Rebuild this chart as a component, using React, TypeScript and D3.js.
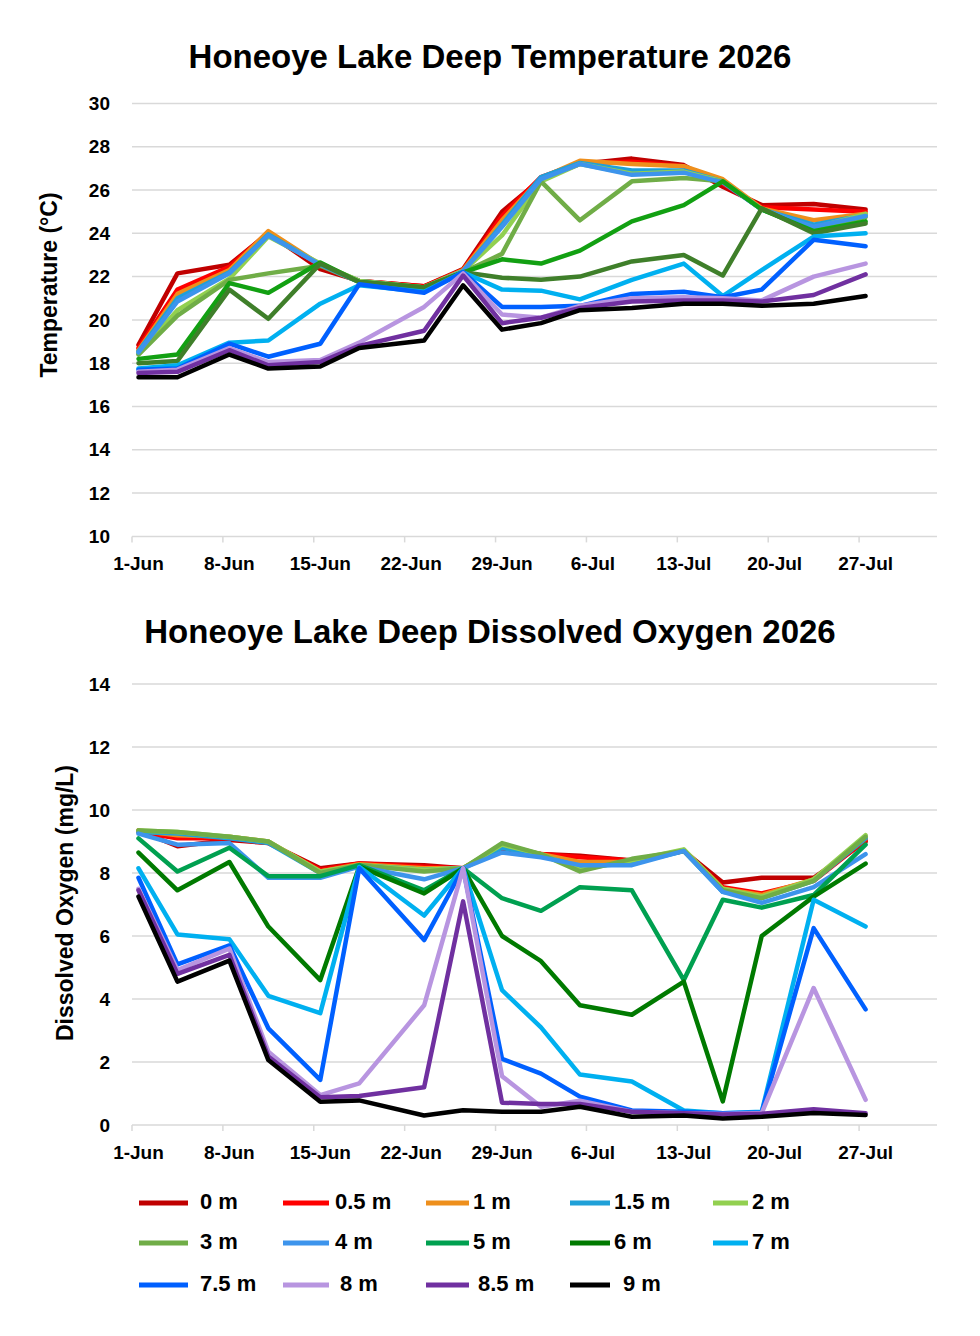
import React, { useEffect } from "react";
import * as d3 from "d3";

// sampling dates (same for both charts)
const DATES = [
  "2026-06-01", "2026-06-04", "2026-06-08", "2026-06-11", "2026-06-15", "2026-06-18",
  "2026-06-23", "2026-06-26", "2026-06-29", "2026-07-02", "2026-07-05", "2026-07-09",
  "2026-07-13", "2026-07-16", "2026-07-19", "2026-07-23", "2026-07-27",
];

const DEPTHS = ["0 m", "0.5 m", "1 m", "1.5 m", "2 m", "3 m", "4 m", "5 m", "6 m", "7 m", "7.5 m", "8 m", "8.5 m", "9 m"];

const COLORS = [
  "#c00000", "#ff0000", "#ee8f1c", "#1fa0d8", "#92d050", "#70ad47", "#3d94ec",
  "#00a050", "#007a00", "#00b0f0", "#0060ff", "#b895e0", "#7030a0", "#000000",
];
// temperature chart draws 5 m and 6 m in other greens
const TEMP_COLORS = COLORS.map((c, i) => (i === 7 ? "#12a012" : i === 8 ? "#3f7f2a" : c));

// temperature (°C) per depth
const T0 = [18.85, 22.15, 22.55, 24.0, 22.35, 21.8, 21.55, 22.35, 25.0, 26.5, 27.2, 27.45, 27.15, 26.15, 25.3, 25.35, 25.1];
const T05 = [18.7, 21.4, 22.45, 24.05, 22.5, 21.8, 21.55, 22.3, 24.8, 26.6, 27.25, 27.3, 27.1, 26.3, 25.2, 25.1, 25.0];
const T1 = [18.6, 21.2, 22.3, 24.1, 22.55, 21.8, 21.5, 22.3, 24.6, 26.55, 27.35, 27.2, 27.1, 26.5, 25.15, 24.6, 24.9];
const T15 = [18.55, 21.0, 22.2, 23.95, 22.55, 21.8, 21.5, 22.25, 24.4, 26.6, 27.25, 26.9, 26.9, 26.4, 25.1, 24.4, 24.85];
const T2 = [18.45, 20.45, 21.9, 23.85, 22.6, 21.8, 21.5, 22.25, 23.9, 26.4, 27.2, 26.75, 26.85, 26.4, 25.1, 24.25, 24.9];
const T3 = [18.4, 20.2, 21.85, 22.15, 22.5, 21.75, 21.5, 22.2, 23.05, 26.4, 24.6, 26.4, 26.55, 26.4, 25.1, 24.15, 24.75];
const T4 = [18.5, 20.85, 22.15, 23.9, 22.55, 21.75, 21.45, 22.25, 24.3, 26.5, 27.2, 26.7, 26.8, 26.35, 25.1, 24.3, 24.8];
const T5 = [18.2, 18.4, 21.7, 21.25, 22.65, 21.75, 21.5, 22.2, 22.8, 22.6, 23.2, 24.55, 25.3, 26.4, 25.1, 24.1, 24.55];
const T6 = [18.0, 18.1, 21.4, 20.05, 22.6, 21.75, 21.5, 22.2, 21.95, 21.85, 22.0, 22.7, 23.0, 22.05, 25.15, 24.0, 24.45];
const T7 = [17.75, 17.9, 18.95, 19.05, 20.75, 21.6, 21.3, 22.2, 21.4, 21.35, 20.95, 21.85, 22.6, 21.1, 22.3, 23.85, 24.0];
const T75 = [17.7, 17.75, 18.9, 18.3, 18.9, 21.65, 21.25, 22.2, 20.6, 20.6, 20.65, 21.2, 21.3, 21.05, 21.4, 23.7, 23.4];
const T8 = [17.6, 17.7, 18.7, 18.05, 18.15, 18.95, 20.6, 22.15, 20.25, 20.1, 20.65, 21.0, 21.05, 21.0, 20.9, 22.0, 22.6];
const T85 = [17.55, 17.6, 18.6, 17.9, 18.05, 18.8, 19.5, 22.05, 19.85, 20.1, 20.55, 20.85, 20.9, 20.9, 20.85, 21.15, 22.1];
const T9 = [17.35, 17.35, 18.4, 17.75, 17.85, 18.7, 19.05, 21.6, 19.55, 19.85, 20.45, 20.55, 20.75, 20.75, 20.65, 20.75, 21.1];
const TEMP = [T0, T05, T1, T15, T2, T3, T4, T5, T6, T7, T75, T8, T85, T9];

// dissolved oxygen (mg/L) per depth
const O0 = [9.35, 8.85, 9.05, 8.95, 8.15, 8.3, 8.25, 8.15, 8.75, 8.6, 8.55, 8.4, 8.7, 7.7, 7.85, 7.85, 9.0];
const O05 = [9.3, 9.1, 9.1, 8.95, 8.1, 8.3, 8.2, 8.15, 8.85, 8.6, 8.5, 8.4, 8.7, 7.55, 7.35, 7.75, 9.05];
const O1 = [9.35, 9.2, 9.15, 9.0, 8.05, 8.28, 8.15, 8.15, 8.85, 8.6, 8.35, 8.35, 8.7, 7.5, 7.3, 7.8, 9.1];
const O15 = [9.3, 9.25, 9.1, 8.95, 8.0, 8.25, 8.1, 8.15, 8.8, 8.55, 8.2, 8.3, 8.7, 7.4, 7.2, 7.75, 9.1];
const O2 = [9.35, 9.3, 9.15, 9.0, 8.05, 8.25, 8.1, 8.15, 8.9, 8.6, 8.1, 8.4, 8.75, 7.5, 7.25, 7.8, 9.2];
const O3 = [9.35, 9.3, 9.15, 9.0, 8.0, 8.25, 8.05, 8.15, 8.95, 8.6, 8.05, 8.45, 8.7, 7.45, 7.2, 7.75, 9.15];
const O4 = [9.25, 8.9, 8.95, 7.85, 7.85, 8.2, 7.8, 8.15, 8.65, 8.5, 8.25, 8.25, 8.7, 7.4, 7.05, 7.55, 8.6];
const O5 = [9.1, 8.05, 8.8, 7.9, 7.9, 8.25, 7.45, 8.15, 7.2, 6.8, 7.55, 7.45, 4.6, 7.15, 6.9, 7.3, 8.9];
const O6 = [8.65, 7.45, 8.35, 6.3, 4.6, 8.2, 7.35, 8.15, 6.0, 5.2, 3.8, 3.5, 4.55, 0.75, 6.0, 7.25, 8.3];
const O7 = [8.15, 6.05, 5.9, 4.1, 3.55, 8.2, 6.65, 8.15, 4.28, 3.1, 1.6, 1.38, 0.46, 0.37, 0.42, 7.15, 6.3];
const O75 = [7.85, 5.1, 5.7, 3.07, 1.43, 8.15, 5.87, 8.15, 2.1, 1.63, 0.9, 0.46, 0.42, 0.37, 0.4, 6.25, 3.67];
const O8 = [7.5, 4.92, 5.6, 2.33, 0.95, 1.32, 3.8, 8.15, 1.55, 0.58, 0.77, 0.42, 0.37, 0.35, 0.38, 4.35, 0.8];
const O85 = [7.45, 4.8, 5.4, 2.17, 0.88, 0.92, 1.2, 7.1, 0.71, 0.67, 0.67, 0.42, 0.37, 0.33, 0.36, 0.5, 0.37];
const O9 = [7.25, 4.55, 5.22, 2.06, 0.74, 0.78, 0.3, 0.47, 0.42, 0.42, 0.58, 0.26, 0.3, 0.21, 0.26, 0.38, 0.32];
const DO = [O0, O05, O1, O15, O2, O3, O4, O5, O6, O7, O75, O8, O85, O9];

const TEMP_TICKS = [10, 12, 14, 16, 18, 20, 22, 24, 26, 28, 30];
const DO_TICKS = [0, 2, 4, 6, 8, 10, 12, 14];

const FONT = "'Liberation Sans', Arial, sans-serif";
const parse = d3.timeParse("%Y-%m-%d");
const fmt = d3.timeFormat("%-d-%b");
const START = parse("2026-06-01")!;
const END = d3.timeDay.offset(START, 62);
const dates = DATES.map((d) => parse(d)!);
const weekTicks = d3.range(0, 62, 7).map((n) => d3.timeDay.offset(START, n));

const x = d3.scaleTime().domain([START, END]).range([132, 937]);
// excel date axis: points sit in the middle of their day
const xMid = (d: Date) => x(d3.timeHour.offset(d, 12));

type ChartProps = {
  title: string;
  titleY: number;
  yLabel: string;
  yLabelX: number;
  yLabelY: number;
  top: number;
  bottom: number;
  ticks: number[];
  series: number[][];
  colors: string[];
};

function Chart({ title, titleY, yLabel, yLabelX, yLabelY, top, bottom, ticks, series, colors }: ChartProps) {
  const y = d3.scaleLinear().domain([ticks[0], ticks[ticks.length - 1]]).range([bottom, top]);
  const line = d3
    .line<number>()
    .x((_, i) => xMid(dates[i]))
    .y((v) => y(v));

  return (
    <g>
      <text x={490} y={titleY} textAnchor="middle" fontSize={33} fontWeight="bold" fontFamily={FONT}>
        {title}
      </text>

      {ticks.map((t) => (
        <g key={t}>
          <line x1={132} x2={937} y1={y(t)} y2={y(t)} stroke="#d9d9d9" strokeWidth={1.5} />
          <text x={110} y={y(t)} dy="0.35em" textAnchor="end" fontSize={19} fontWeight="bold" fontFamily={FONT}>
            {t}
          </text>
        </g>
      ))}

      {weekTicks.map((d) => (
        <g key={+d}>
          <line x1={x(d)} x2={x(d)} y1={bottom} y2={bottom + 6} stroke="#d9d9d9" strokeWidth={1.5} />
          <text x={xMid(d)} y={bottom + 34} textAnchor="middle" fontSize={19} fontWeight="bold" fontFamily={FONT}>
            {fmt(d)}
          </text>
        </g>
      ))}

      <text
        transform={`translate(${yLabelX},${yLabelY}) rotate(-90)`}
        textAnchor="middle"
        fontSize={23}
        fontWeight="bold"
        fontFamily={FONT}
      >
        {yLabel}
      </text>

      {series.map((s, i) => (
        <path
          key={DEPTHS[i]}
          d={line(s) || ""}
          fill="none"
          stroke={colors[i]}
          strokeWidth={4.5}
          strokeLinejoin="round"
          strokeLinecap="round"
        />
      ))}
    </g>
  );
}

// legend columns (line start, line length, label start) and rows
const LEG_LINE_X = [139, 283, 426, 570, 713];
const LEG_LINE_LEN = [49, 46, 43, 40, 35];
const LEG_LABEL_X = [200, 335, 473, 614, 752];
const LEG_ROW3_LABEL_X = [200, 340, 478, 623];
const LEG_ROWS_Y = [1201, 1241, 1283];

function Legend() {
  return (
    <g>
      {DEPTHS.map((name, i) => {
        const row = Math.floor(i / 5);
        const col = i % 5;
        const yy = LEG_ROWS_Y[row];
        const x0 = LEG_LINE_X[col];
        const lx = row === 2 ? LEG_ROW3_LABEL_X[col] : LEG_LABEL_X[col];
        return (
          <g key={name}>
            <line x1={x0} x2={x0 + LEG_LINE_LEN[col]} y1={yy + 2} y2={yy + 2} stroke={COLORS[i]} strokeWidth={5} />
            <text x={lx} y={yy} dy="0.35em" fontSize={22} fontWeight="bold" fontFamily={FONT}>
              {name}
            </text>
          </g>
        );
      })}
    </g>
  );
}

export default function App() {
  useEffect(() => {
    document.body.style.margin = "0";
  }, []);

  return (
    <svg width={980} height={1336} style={{ display: "block", background: "#fff" }}>
      <Chart
        title="Honeoye Lake Deep Temperature 2026"
        titleY={68}
        yLabel="Temperature (°C)"
        yLabelX={57}
        yLabelY={285}
        top={103.4}
        bottom={536.4}
        ticks={TEMP_TICKS}
        series={TEMP}
        colors={TEMP_COLORS}
      />
      <Chart
        title="Honeoye Lake Deep Dissolved Oxygen 2026"
        titleY={643}
        yLabel="Dissolved Oxygen (mg/L)"
        yLabelX={73}
        yLabelY={903}
        top={684}
        bottom={1125}
        ticks={DO_TICKS}
        series={DO}
        colors={COLORS}
      />
      <Legend />
    </svg>
  );
}
